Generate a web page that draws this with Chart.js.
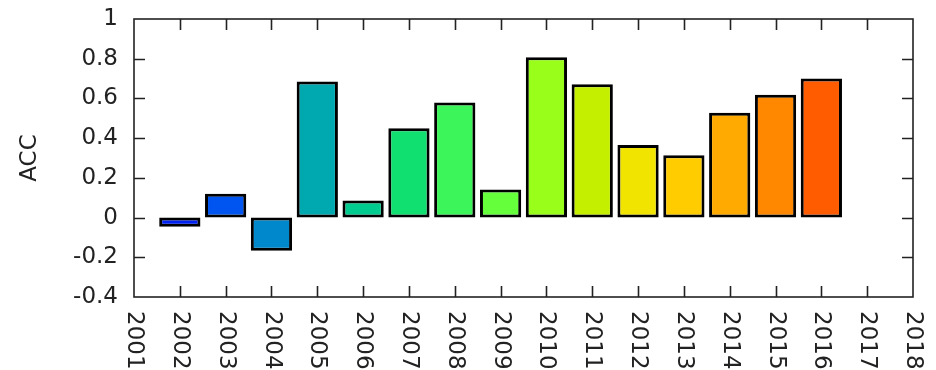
<!DOCTYPE html>
<html>
<head>
<meta charset="utf-8">
<script src="https://cdn.jsdelivr.net/npm/chart.js@4.4.0/dist/chart.umd.min.js"></script>
<style>
  html, body { margin: 0; padding: 0; background: #fff; }
  #wrap { width: 936px; height: 370px; }
</style>
</head>
<body>
<div id="wrap"><canvas id="canvas" width="936" height="370"></canvas></div>
<script>
// data
var years = ['2001','2002','2003','2004','2005','2006','2007','2008','2009','2010','2011','2012','2013','2014','2015','2016','2017','2018']
var acc = [null, -0.046, 0.12, -0.167, 0.685, 0.086, 0.45, 0.58, 0.141, 0.807, 0.671, 0.366, 0.314, 0.528, 0.619, 0.70, null, null]
var barColors = ['#000000','#0022f0','#0055f0','#0088cc','#00a8b0','#00cc90','#10e070','#3cf55a','#66ff3c','#99ff1a','#c4f000','#f0e400','#ffcc00','#ffaa00','#ff8800','#ff5c00','#000000','#000000']
var yTicks = [-0.4, -0.2, 0, 0.2, 0.4, 0.6, 0.8, 1]

var fontFam = "'DejaVu Sans', sans-serif"
var fontSize = 23
var ink = '#222'

// frame, inward ticks and rotated year labels
var frame = {
    id: 'frame',
    afterDraw: function(chart){
        var ctx = chart.ctx
        var a = chart.chartArea
        var xs = chart.scales.x
        var ys = chart.scales.y
        var tl = 11
        ctx.save()
        ctx.strokeStyle = ink
        ctx.lineWidth = 1.6
        ctx.strokeRect(a.left, a.top, a.right - a.left, a.bottom - a.top)
        ctx.beginPath()
        for (var i = 1; i < years.length - 1; i++) {
            var x = Math.round(xs.getPixelForTick(i)) + 0.5
            ctx.moveTo(x, a.bottom); ctx.lineTo(x, a.bottom - tl)
            ctx.moveTo(x, a.top); ctx.lineTo(x, a.top + tl)
        }
        for (var j = 1; j < yTicks.length - 1; j++) {
            var y = Math.round(ys.getPixelForValue(yTicks[j])) + 0.5
            ctx.moveTo(a.left, y); ctx.lineTo(a.left + tl, y)
            ctx.moveTo(a.right, y); ctx.lineTo(a.right - tl, y)
        }
        ctx.stroke()

        ctx.fillStyle = ink
        ctx.font = fontSize + 'px ' + fontFam
        ctx.textAlign = 'left'
        ctx.textBaseline = 'middle'
        for (var k = 0; k < years.length; k++) {
            ctx.save()
            ctx.translate(xs.getPixelForTick(k), a.bottom + 14)
            ctx.rotate(Math.PI / 2)
            ctx.fillText(years[k], 0, 0)
            ctx.restore()
        }
        ctx.restore()
    }
}

var chart = new Chart(document.getElementById('canvas'), {
    type: 'bar',
    data: {
        labels: years,
        datasets: [{
            label: 'ACC',
            data: acc,
            backgroundColor: barColors,
            borderColor: '#000',
            borderWidth: 3,
            borderSkipped: false,
            barPercentage: 0.9,
            categoryPercentage: 1
        }]
    },
    options: {
        responsive: false,
        animation: false,
        layout: {
            padding: { top: 19, right: 23, left: 0, bottom: 0 }
        },
        plugins: {
            legend: { display: false },
            tooltip: { enabled: false }
        },
        scales: {
            x: {
                type: 'category',
                offset: false,
                grid: { display: false },
                border: { display: false },
                ticks: { display: false },
                afterFit: function(s){
                    s.height = 73
                    s.paddingLeft = 0
                    s.paddingRight = 0
                }
            },
            y: {
                min: -0.4,
                max: 1,
                grid: { display: false, drawTicks: false },
                border: { display: false },
                afterFit: function(s){
                    s.width = 134
                    s.paddingTop = 0
                    s.paddingBottom = 0
                },
                ticks: {
                    stepSize: 0.2,
                    padding: 16,
                    color: ink,
                    font: { family: fontFam, size: fontSize },
                    callback: function(v){ return String(Math.round(v * 10) / 10) }
                },
                title: {
                    display: true,
                    text: 'ACC',
                    color: ink,
                    padding: { top: 16, bottom: 0 },
                    font: { family: fontFam, size: fontSize }
                }
            }
        }
    },
    plugins: [frame]
})
</script>
</body>
</html>
